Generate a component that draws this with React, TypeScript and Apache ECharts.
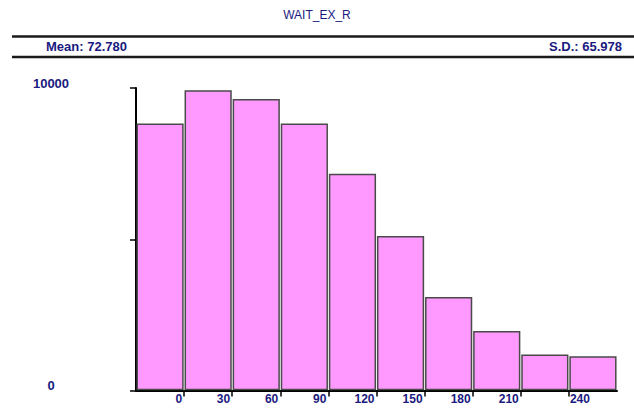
import React, { useEffect, useRef } from "react";
import * as echarts from "echarts";

const TITLE = "WAIT_EX_R";
const MEAN_TEXT = "Mean: 72.780";
const SD_TEXT = "S.D.: 65.978";

// lower edge of each bin (bin width 30)
const binStarts = [-30, 0, 30, 60, 90, 120, 150, 180, 210, 240];
const counts = [8800, 9900, 9610, 8800, 7140, 5080, 3070, 1945, 1165, 1105];
const BIN_WIDTH = 30;

const xTickValues = [0, 30, 60, 90, 120, 150, 180, 210, 240];
const xLeftLabels = [0, 30, 60, 90, 120, 150, 180, 210];
const xRightLabels = [240];
const yShownLabels = [0, 10000];

const NAVY = "#1a1a80";
const FONT = "'Liberation Sans', Arial, sans-serif";

export default function App() {
  const ref = useRef<HTMLDivElement>(null);

  useEffect(() => {
    document.body.style.margin = "0";
    if (!ref.current) return;
    const chart = echarts.init(ref.current, null, { renderer: "svg" });

    const data = binStarts.map((s, i) => [s, counts[i]]);

    chart.setOption({
      animation: false,
      backgroundColor: "#ffffff",
      textStyle: { fontFamily: FONT },
      grid: { left: 136, right: 17, top: 88, bottom: 18.5, containLabel: false },
      graphic: [
        {
          type: "text",
          x: 317,
          y: 15,
          style: {
            text: TITLE,
            fill: NAVY,
            font: `12px ${FONT}`,
            align: "center",
            verticalAlign: "middle",
          },
        },
        {
          type: "line",
          shape: { x1: 12, y1: 36.5, x2: 634, y2: 36.5 },
          style: { stroke: "#1a1a1a", lineWidth: 2.5 },
        },
        {
          type: "line",
          shape: { x1: 12, y1: 57, x2: 634, y2: 57 },
          style: { stroke: "#1a1a1a", lineWidth: 2.5 },
        },
        {
          type: "text",
          x: 46,
          y: 46.5,
          style: {
            text: MEAN_TEXT,
            fill: NAVY,
            font: `bold 13px ${FONT}`,
            align: "left",
            verticalAlign: "middle",
          },
        },
        {
          type: "text",
          x: 622,
          y: 46.5,
          style: {
            text: SD_TEXT,
            fill: NAVY,
            font: `bold 13px ${FONT}`,
            align: "right",
            verticalAlign: "middle",
          },
        },
      ],
      xAxis: [
        {
          type: "value",
          min: -30,
          max: 270,
          position: "bottom",
          splitLine: { show: false },
          axisLine: { show: true, onZero: false, lineStyle: { color: "#000", width: 2 } },
          axisTick: {
            show: true,
            customValues: xTickValues,
            length: 6,
            lineStyle: { color: "#000", width: 1.5 },
          },
          axisLabel: {
            show: true,
            customValues: xLeftLabels,
            align: "right",
            margin: 2,
            padding: [0, 2, 0, 0],
            color: NAVY,
            fontWeight: "bold",
            fontSize: 12,
            fontFamily: FONT,
          },
        },
        {
          type: "value",
          min: -30,
          max: 270,
          position: "bottom",
          offset: 0,
          splitLine: { show: false },
          axisLine: { show: false, onZero: false },
          axisTick: { show: false },
          axisLabel: {
            show: true,
            customValues: xRightLabels,
            align: "left",
            margin: 2,
            padding: [0, 0, 0, 1],
            color: NAVY,
            fontWeight: "bold",
            fontSize: 12,
            fontFamily: FONT,
          },
        },
      ],
      yAxis: {
        type: "value",
        min: 0,
        max: 10000,
        interval: 5000,
        position: "left",
        splitLine: { show: false },
        axisLine: { show: true, onZero: false, lineStyle: { color: "#000", width: 2 } },
        axisTick: { show: true, length: 6, lineStyle: { color: "#000", width: 1.5 } },
        axisLabel: {
          show: true,
          align: "center",
          verticalAlign: "bottom",
          lineHeight: 10,
          margin: 85,
          color: NAVY,
          fontWeight: "bold",
          fontSize: 13,
          fontFamily: FONT,
          formatter: (v: number) => (yShownLabels.includes(v) ? String(v) : ""),
        },
      },
      series: [
        {
          type: "custom",
          xAxisIndex: 0,
          yAxisIndex: 0,
          data,
          renderItem: (params: any, api: any) => {
            const start = api.value(0);
            const v = api.value(1);
            const p0 = api.coord([start, v]);
            const p1 = api.coord([start + BIN_WIDTH, 0]);
            return {
              type: "rect",
              shape: {
                x: p0[0] + 1.2,
                y: p0[1],
                width: p1[0] - p0[0] - 2.4,
                height: p1[1] - p0[1] - 1,
              },
              style: { fill: "#ff99ff", stroke: "#4a4a4a", lineWidth: 1.5 },
            };
          },
        },
      ],
    });

    return () => chart.dispose();
  }, []);

  return <div ref={ref} style={{ width: 634, height: 409 }} />;
}
